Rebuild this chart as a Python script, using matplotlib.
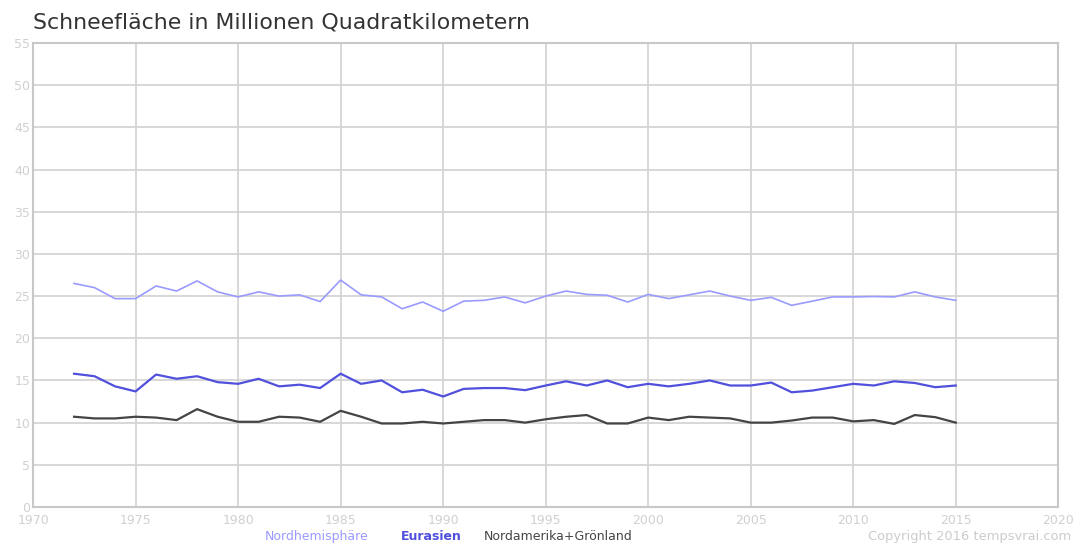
import matplotlib
matplotlib.use("Agg")
import matplotlib.pyplot as plt

years = list(range(1972, 2016))
nordhemisphaere = [26.5, 26.0, 24.7, 24.7, 26.2, 25.6, 26.8, 25.5, 24.9, 25.5,
                   25.0, 25.15, 24.35, 26.9, 25.15, 24.9, 23.5, 24.3, 23.2, 24.4,
                   24.5, 24.9, 24.2, 25.0, 25.6, 25.2, 25.1, 24.3, 25.2, 24.7,
                   25.15, 25.6, 25.0, 24.5, 24.85, 23.9, 24.4, 24.9, 24.9, 24.95,
                   24.9, 25.5, 24.9, 24.5]
eurasien = [15.8, 15.5, 14.3, 13.7, 15.7, 15.2, 15.5, 14.8, 14.6, 15.2,
            14.3, 14.5, 14.1, 15.8, 14.6, 15.0, 13.6, 13.9, 13.1, 14.0,
            14.1, 14.1, 13.85, 14.4, 14.9, 14.4, 15.0, 14.2, 14.6, 14.3,
            14.6, 15.0, 14.4, 14.4, 14.75, 13.6, 13.8, 14.2, 14.6, 14.4,
            14.9, 14.7, 14.2, 14.4]
nordamerika = [10.7, 10.5, 10.5, 10.7, 10.6, 10.3, 11.6, 10.7, 10.1, 10.1,
               10.7, 10.6, 10.1, 11.4, 10.7, 9.9, 9.9, 10.1, 9.9, 10.1,
               10.3, 10.3, 10.0, 10.4, 10.7, 10.9, 9.9, 9.9, 10.6, 10.3,
               10.7, 10.6, 10.5, 10.0, 10.0, 10.25, 10.6, 10.6, 10.15, 10.3,
               9.85, 10.9, 10.65, 10.0]

series_names = ["Nordhemisphäre", "Eurasien", "Nordamerika+Grönland"]
series_colors = ["#9a9aff", "#5050dd", "#444444"]
x_ticks = list(range(1970, 2021, 5))
y_ticks = list(range(0, 56, 5))

plt.rcParams['font.family'] = ['DejaVu Sans']
fig = plt.figure(figsize=(10.73, 5.43), dpi=100)
ax = fig.add_axes([0.0308, 0.0663, 0.9555, 0.8545])

for vals, col, lw in zip([nordhemisphaere, eurasien, nordamerika], series_colors, [1.2, 1.6, 1.6]):
    ax.plot(years, vals, color=col, lw=lw, zorder=3)

ax.set_xlim(1970, 2020)
ax.set_ylim(0, 55)
ax.set_xticks(x_ticks)
ax.set_yticks(y_ticks)
ax.grid(True, color="#d4d4d4", lw=1.3, zorder=0)
ax.set_axisbelow(True)
for s in ax.spines.values():
    s.set_color("#c8c8c8")
    s.set_linewidth(1.5)
ax.tick_params(axis='both', length=0, colors="#d0d0d0", labelsize=9)
ax.tick_params(axis='x', pad=5)
ax.tick_params(axis='y', pad=2)

fig.text(0.031, 0.958, "Schneefläche in Millionen Quadratkilometern",
         fontsize=15.8, color="#333333", ha="left", va="center")

legend_x = [0.247, 0.374, 0.451]
for name, col, lx in zip(series_names, series_colors, legend_x):
    fig.text(lx, 0.0, name, fontsize=9.0, color=col, ha="left", va="bottom",
             fontweight="bold" if name == "Eurasien" else "normal")

fig.text(0.998, 0.0, "Copyright 2016 tempsvrai.com", fontsize=9.4,
         color="#cccccc", ha="right", va="bottom")

fig.savefig("out.png", dpi=100)
